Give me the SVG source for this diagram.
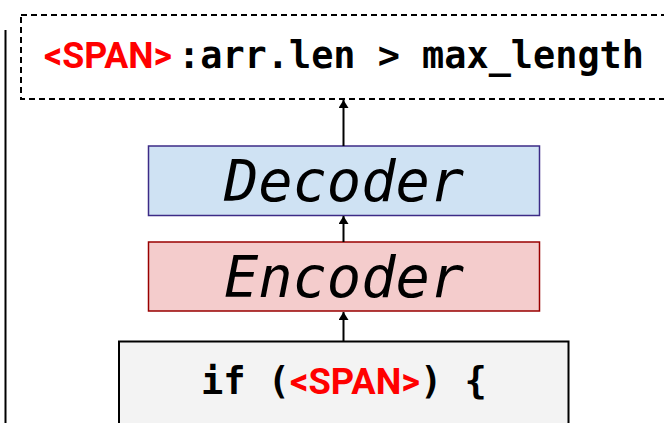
<svg xmlns="http://www.w3.org/2000/svg" width="664" height="423" viewBox="0 0 664 423">
  <style>
    .mono { font-family: "DejaVu Sans Mono", "Liberation Mono", monospace; font-weight: bold; font-size: 37px; fill: #000; }
    .tag { font-family: Roboto, "Liberation Sans", sans-serif; font-weight: bold; fill: #ff0000; }
    .stage { font-family: "DejaVu Sans Mono", "Liberation Mono", monospace; font-style: italic; font-size: 57px; fill: #000; }
    .edge { stroke: #000; stroke-width: 2; fill: none; marker-end: url(#arrow); }
  </style>
  <defs>
    <marker id="arrow" viewBox="0 0 8 10" refX="8" refY="5" markerWidth="8" markerHeight="10" markerUnits="userSpaceOnUse" orient="auto">
      <path d="M0,0 L8,5 L0,10 z" fill="#000"/>
    </marker>
  </defs>

  <rect width="664" height="423" fill="#fff"/>

  <!-- left rule -->
  <line x1="5.5" y1="30" x2="5.5" y2="423" stroke="#000" stroke-width="2"/>

  <g id="output">
    <rect x="21" y="15" width="660" height="84" fill="none" stroke="#000" stroke-width="2" stroke-dasharray="6,4"/>
    <text x="44" y="68" class="mono"><tspan class="tag" textLength="128" lengthAdjust="spacingAndGlyphs">&lt;SPAN&gt;</tspan><tspan x="178" textLength="466" lengthAdjust="spacingAndGlyphs">:arr.len &gt; max_length</tspan></text>
  </g>

  <g id="decoder">
    <rect x="148.5" y="146" width="391" height="69.5" fill="#cfe2f3" stroke="#3c2b86" stroke-width="1.5"/>
    <text x="344" y="201" class="stage" text-anchor="middle">Decoder</text>
  </g>

  <g id="encoder">
    <rect x="148.5" y="242" width="391" height="69" fill="#f4cccc" stroke="#990000" stroke-width="1.5"/>
    <text x="344" y="297" class="stage" text-anchor="middle">Encoder</text>
  </g>

  <g id="source">
    <rect x="119" y="341.5" width="449.5" height="100" fill="#f3f3f3" stroke="#000" stroke-width="2"/>
    <text x="201" y="394" class="mono"><tspan>if (</tspan><tspan class="tag" x="290" textLength="130" lengthAdjust="spacingAndGlyphs">&lt;SPAN&gt;</tspan><tspan x="420">) {</tspan></text>
  </g>

  <g id="connectors">
    <line class="edge" x1="343.5" y1="341" x2="343.5" y2="312"/>
    <line class="edge" x1="343.5" y1="242" x2="343.5" y2="216"/>
    <line class="edge" x1="343.5" y1="146" x2="343.5" y2="100"/>
  </g>
</svg>
